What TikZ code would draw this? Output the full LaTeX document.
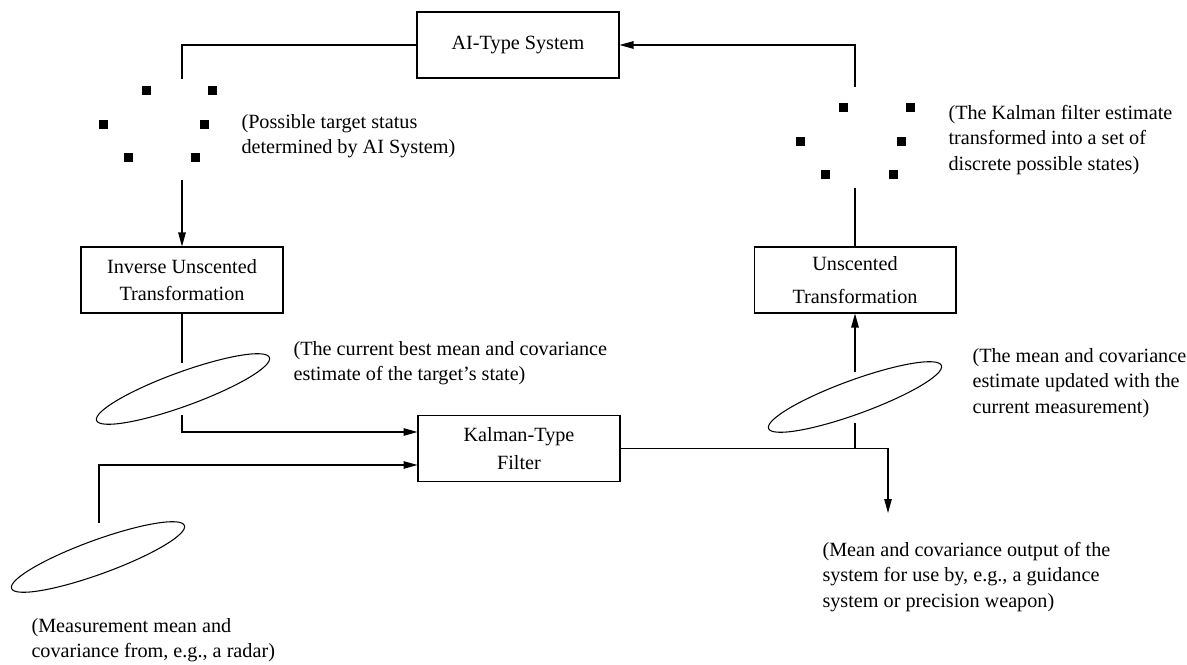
\documentclass[tikz,border=0pt]{standalone}
\usepackage{fontspec}
\setmainfont{Liberation Serif}
\usetikzlibrary{arrows.meta,shapes.geometric}

\begin{document}
\begin{tikzpicture}[x=0.02cm,y=-0.02cm,line width=0.6pt,
  every node/.style={font=\fontsize{11.5}{14.5}\selectfont},
  block/.style={draw,minimum width=4.04cm,minimum height=1.32cm,align=center,inner sep=2pt},
  note/.style={anchor=west,align=left,inner sep=0pt},
  pt/.style={fill,minimum size=0.18cm,inner sep=0pt},
  cov/.style={draw,ellipse,rotate=20,minimum width=3.68cm,minimum height=0.68cm,inner sep=0pt},
  arr/.style={-{Triangle[length=0.28cm,width=0.15cm]}}]
\useasboundingbox (0,0) rectangle (1187,665);

% blocks
\node[block] (ai) at (518,45) {AI-Type System};
\node[block] (inv) at (182,280) {Inverse Unscented\\[1pt]Transformation};
\node[block] (unc) at (855,280) {Unscented\\[4pt]Transformation};
\node[block] (kal) at (519,448.5) {Kalman-Type\\[1pt]Filter};

% discrete states
\foreach \x/\y [count=\i] in {146/91,212/91,103/125,204/125,128/158,195/158}
  \node[pt] (l\i) at (\x,\y) {};
\foreach \x/\y [count=\i] in {843/108,910/108,800/142,901/142,825/175,893/175}
  \node[pt] (r\i) at (\x,\y) {};

% covariance ellipses
\node[cov] (cov1) at (183,389) {};
\node[cov] (cov2) at (98,557) {};
\node[cov] (cov3) at (855,397) {};

% notes
\node[note] (n1) at (241,136) {(Possible target status\\determined by AI System)};
\node[note] (n2) at (948,140) {(The Kalman filter estimate\\transformed into a set of\\discrete possible states)};
\node[note] (n3) at (293,363) {(The current best mean and covariance\\estimate of the target's state)};
\node[note] (n4) at (972,383) {(The mean and covariance\\estimate updated with the\\current measurement)};
\node[note] (n5) at (822,577) {(Mean and covariance output of the\\system for use by, e.g., a guidance\\system or precision weapon)};
\node[note] (n6) at (31,640) {(Measurement mean and\\covariance from, e.g., a radar)};

% line ends around dots and ellipses
\coordinate (d1) at (182,79);
\coordinate (d2) at (182,180);
\coordinate (e1a) at (182,363);
\coordinate (e1b) at (182,415);
\coordinate (e2) at (99,523);
\coordinate (out) at (888,513);
\coordinate (e3a) at (855,423);
\coordinate (e3b) at (855,372);
\coordinate (d3) at (855,188);
\coordinate (d4) at (855,87);

% connectors
\draw (ai.west) -| (d1);
\draw[arr] (d2) -- (inv.north);
\draw (inv.south) -- (e1a);
\draw[arr] (e1b) |- ([yshift=.33cm]kal.west);
\draw[arr] (e2) |- ([yshift=-.33cm]kal.west);
\draw[arr] (kal.east) -| (out);
\draw (unc.south |- kal.east) -- (e3a);
\draw[arr] (e3b) -- (unc.south);
\draw (unc.north) -- (d3);
\draw[arr] (d4) |- (ai.east);
\end{tikzpicture}
\end{document}
